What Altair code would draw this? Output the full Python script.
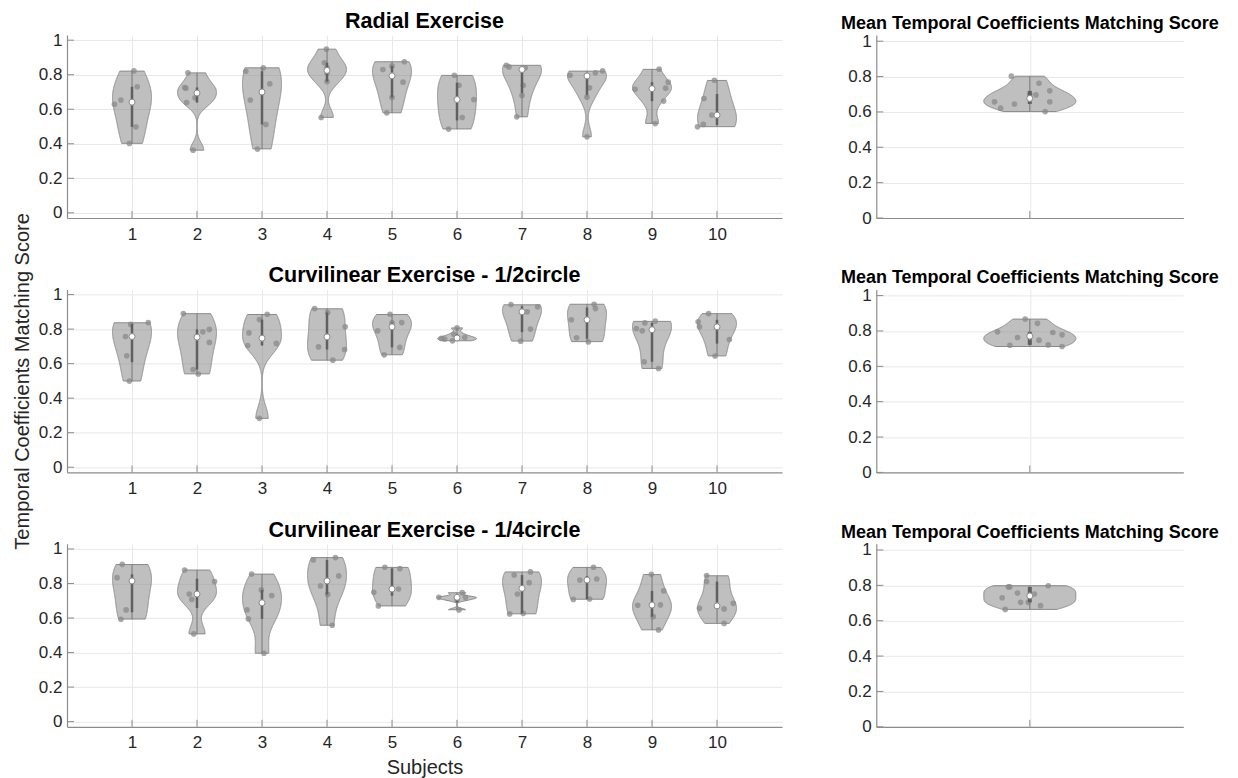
import numpy as np
import pandas as pd
import altair as alt

FONT = "Liberation Sans"

subjects = list(range(1, 11))
y_ticks = [0, 0.2, 0.4, 0.6, 0.8, 1.0]

panel_titles = [
    "Radial Exercise",
    "Curvilinear Exercise - 1/2circle",
    "Curvilinear Exercise - 1/4circle",
]
mean_title = "Mean Temporal Coefficients Matching Score"
y_label = "Temporal Coefficients Matching Score"
x_label = "Subjects"

# Per-subject matching scores (one list per subject) and the horizontal jitter of each dot
radial_scores = [
    [0.822, 0.730, 0.653, 0.629, 0.498, 0.402],
    [0.811, 0.726, 0.722, 0.666, 0.639, 0.363],
    [0.840, 0.820, 0.747, 0.653, 0.512, 0.369],
    [0.948, 0.869, 0.840, 0.810, 0.760, 0.552],
    [0.875, 0.850, 0.830, 0.757, 0.668, 0.579],
    [0.797, 0.739, 0.656, 0.552, 0.485],
    [0.855, 0.845, 0.840, 0.830, 0.739, 0.680, 0.556],
    [0.822, 0.811, 0.797, 0.793, 0.724, 0.670, 0.440],
    [0.832, 0.757, 0.722, 0.716, 0.647, 0.517],
    [0.768, 0.662, 0.566, 0.512, 0.498],
]
radial_jitter = [
    [0.03, 0.08, -0.17, -0.27, 0.06, -0.04],
    [-0.14, -0.19, -0.17, -0.03, -0.16, -0.06],
    [0.02, -0.25, 0.12, -0.18, 0.06, -0.07],
    [-0.01, -0.04, 0.00, 0.00, 0.00, -0.09],
    [0.19, 0.00, -0.14, 0.17, 0.00, -0.08],
    [-0.04, 0.03, 0.26, 0.08, -0.13],
    [-0.24, -0.20, 0.05, 0.00, 0.02, 0.00, -0.08],
    [0.24, 0.13, -0.26, 0.00, 0.04, 0.00, 0.00],
    [0.11, 0.25, 0.21, -0.26, 0.18, 0.05],
    [-0.04, -0.20, -0.08, -0.21, -0.30],
]

half_circle_scores = [
    [0.838, 0.827, 0.757, 0.645, 0.499],
    [0.890, 0.798, 0.784, 0.723, 0.566, 0.540],
    [0.886, 0.855, 0.778, 0.717, 0.705, 0.283],
    [0.919, 0.896, 0.813, 0.697, 0.682, 0.620],
    [0.886, 0.838, 0.836, 0.790, 0.694, 0.651],
    [0.807, 0.770, 0.751, 0.746, 0.742, 0.732],
    [0.942, 0.929, 0.900, 0.800, 0.730],
    [0.944, 0.919, 0.854, 0.750, 0.726],
    [0.846, 0.836, 0.803, 0.790, 0.611, 0.572],
    [0.890, 0.842, 0.813, 0.740, 0.644],
]
half_circle_jitter = [
    [0.25, -0.02, -0.10, -0.08, -0.04],
    [-0.21, 0.19, 0.09, 0.19, -0.06, 0.02],
    [0.08, -0.04, -0.20, 0.22, -0.22, -0.04],
    [-0.19, 0.01, 0.28, -0.13, 0.27, 0.09],
    [-0.03, 0.15, 0.00, -0.22, 0.12, -0.12],
    [0.00, -0.05, 0.12, -0.24, -0.19, -0.07],
    [-0.17, 0.24, 0.08, 0.13, -0.02],
    [0.11, 0.13, -0.24, -0.16, 0.02],
    [0.05, -0.11, -0.24, -0.15, -0.12, 0.10],
    [-0.13, -0.29, -0.27, 0.19, -0.03],
]

quarter_circle_scores = [
    [0.911, 0.834, 0.815, 0.647, 0.593],
    [0.878, 0.811, 0.739, 0.708, 0.508],
    [0.855, 0.763, 0.730, 0.647, 0.595, 0.396],
    [0.950, 0.936, 0.844, 0.786, 0.737, 0.558],
    [0.894, 0.886, 0.768, 0.749, 0.670],
    [0.747, 0.720, 0.720, 0.705, 0.647],
    [0.867, 0.849, 0.805, 0.739, 0.627, 0.624],
    [0.894, 0.826, 0.820, 0.710, 0.708],
    [0.853, 0.757, 0.676, 0.674, 0.608, 0.531],
    [0.846, 0.811, 0.685, 0.656, 0.653, 0.569],
]
quarter_circle_jitter = [
    [-0.15, -0.23, 0.00, -0.09, -0.17],
    [-0.19, 0.27, -0.12, -0.08, -0.05],
    [-0.16, -0.01, 0.15, -0.23, -0.21, 0.03],
    [0.13, -0.21, 0.18, -0.10, 0.01, 0.08],
    [-0.11, 0.12, 0.10, -0.28, -0.21],
    [0.08, 0.13, -0.28, 0.00, 0.03],
    [0.13, -0.12, 0.11, -0.07, 0.02, -0.19],
    [0.10, 0.15, -0.11, 0.04, -0.21],
    [-0.01, 0.18, 0.13, -0.22, 0.02, 0.10],
    [-0.16, -0.16, 0.25, -0.27, 0.11, 0.11],
]

# Mean score of each subject, one violin per exercise
mean_radial = [0.802, 0.762, 0.719, 0.696, 0.700, 0.657, 0.657, 0.645, 0.621, 0.602]
mean_radial_jitter = [-0.12, 0.06, 0.13, 0.04, 0.00, -0.23, 0.13, -0.10, -0.19, 0.10]
mean_half = [0.867, 0.843, 0.795, 0.791, 0.778, 0.763, 0.748, 0.721, 0.719, 0.712]
mean_half_jitter = [-0.03, 0.05, -0.21, 0.15, 0.21, -0.08, 0.06, 0.12, -0.13, 0.21]
mean_quarter = [0.798, 0.791, 0.791, 0.757, 0.751, 0.730, 0.704, 0.704, 0.685, 0.664]
mean_quarter_jitter = [0.12, -0.14, -0.13, -0.08, 0.03, -0.18, -0.06, -0.01, 0.07, -0.16]

# Style
LEFT_W, RIGHT_W, PANEL_H = 715, 307, 183
VIOLIN_HALF = 0.3
AXIS_COLOR = "#8c8c8c"
TEXT_COLOR = "#262626"


def points_frame(groups, jitters, positions):
    recs = []
    for pos, vals, jit in zip(positions, groups, jitters):
        for v, j in zip(vals, jit):
            recs.append({"pos": pos, "value": v, "xp": pos + j})
    return pd.DataFrame(recs)


def stats_frame(groups, positions):
    recs = []
    for pos, vals in zip(positions, groups):
        v = np.asarray(vals, dtype=float)
        q1, q3 = np.percentile(v, [25, 75], method="hazen")
        iqr = q3 - q1
        lo, hi = q1 - 1.5 * iqr, q3 + 1.5 * iqr
        recs.append({
            "pos": pos, "q1": q1, "q3": q3, "med": float(np.median(v)),
            "wlo": float(v[v >= lo].min()), "whi": float(v[v <= hi].max()),
        })
    return pd.DataFrame(recs)


def x_enc(field, kind, title=None):
    if kind == "left":
        scale = alt.Scale(domain=[0, 11], nice=False, zero=False)
        ax = dict(values=subjects, format="d", grid=True, ticks=False,
                  labelPadding=8)
        width = LEFT_W
    else:
        scale = alt.Scale(domain=[0, 2], nice=False, zero=False)
        ax = dict(values=[1], labels=False, grid=True, ticks=False)
        width = RIGHT_W
    if title:
        ax.update(title=title, titleX=width / 2, titleY=47,
                  titleBaseline="alphabetic", titleAlign="center")
    else:
        ax.update(title=None)
    return alt.X(field, type="quantitative", scale=scale, axis=alt.Axis(**ax))


def y_enc(field, kind, title=None):
    if kind == "left":
        scale = alt.Scale(domain=[-0.03, 1.03], nice=False, zero=False)
    else:
        scale = alt.Scale(domain=[0, 1.035], nice=False, zero=False)
    ax = dict(values=y_ticks, format=".1~f", grid=True, ticks=False,
              labelPadding=5)
    if title:
        ax.update(title=title, titleX=-45, titleY=PANEL_H / 2, titleAngle=-90,
                  titleBaseline="middle", titleAlign="center")
    else:
        ax.update(title=None)
    return alt.Y(field, type="quantitative", scale=scale, axis=alt.Axis(**ax))


def panel(groups, jitters, positions, kind, title, title_size,
          x_title=None, y_title=None):
    pts = points_frame(groups, jitters, positions)
    st = stats_frame(groups, positions)
    width = LEFT_W if kind == "left" else RIGHT_W
    box_w = 2.5 if kind == "left" else 4

    violin = alt.Chart(pts).transform_joinaggregate(
        vmin="min(value)", vmax="max(value)", groupby=["pos"]
    ).transform_density(
        "value", groupby=["pos", "vmin", "vmax"], as_=["value", "density"],
        steps=400,
    ).transform_filter(
        "datum.value >= datum.vmin && datum.value <= datum.vmax"
    ).transform_joinaggregate(
        dmax="max(density)", groupby=["pos"]
    ).transform_calculate(
        xl=f"datum.pos - {VIOLIN_HALF} * datum.density / datum.dmax",
        xr=f"datum.pos + {VIOLIN_HALF} * datum.density / datum.dmax",
    ).mark_area(
        orient="horizontal", fill="#808080", fillOpacity=0.5,
        stroke="#8a8a8a", strokeWidth=1,
    ).encode(
        y=y_enc("value", kind, y_title),
        x=x_enc("xl", kind, x_title),
        x2=alt.X2("xr"),
        detail="pos:N",
    )

    dots = alt.Chart(pts).mark_circle(
        size=32, color="#8a8a8a", opacity=0.75
    ).encode(
        x=x_enc("xp", kind, x_title),
        y=y_enc("value", kind, y_title),
    )

    whisker = alt.Chart(st).mark_rule(color="#7a7a7a", strokeWidth=1).encode(
        x=x_enc("pos", kind, x_title),
        y=y_enc("wlo", kind, y_title),
        y2=alt.Y2("whi"),
    )

    box = alt.Chart(st).mark_rule(color="#606060", strokeWidth=box_w).encode(
        x=x_enc("pos", kind, x_title),
        y=y_enc("q1", kind, y_title),
        y2=alt.Y2("q3"),
    )

    median = alt.Chart(st).mark_point(
        shape="circle", filled=True, fill="white", stroke="#8c8c8c",
        strokeWidth=1, size=36, opacity=1,
    ).encode(
        x=x_enc("pos", kind, x_title),
        y=y_enc("med", kind, y_title),
    )

    # inward tick marks on the left and bottom axes
    ytick = alt.Chart(pd.DataFrame({"tick": y_ticks})).mark_rule(
        color=AXIS_COLOR, strokeWidth=1
    ).encode(
        y=y_enc("tick", kind, y_title),
        x=alt.value(0),
        x2=alt.value(7),
    )
    xvals = subjects if kind == "left" else [1]
    xtick = alt.Chart(pd.DataFrame({"pos": xvals})).mark_rule(
        color=AXIS_COLOR, strokeWidth=1
    ).encode(
        x=x_enc("pos", kind, x_title),
        y=alt.value(PANEL_H),
        y2=alt.value(PANEL_H - 7),
    )

    # panel heading, set just above the plot area
    heading = alt.Chart(pd.DataFrame({"t": [title]})).mark_text(
        font=FONT, fontSize=title_size, fontWeight="bold", color="black",
        align="center", baseline="alphabetic",
    ).encode(
        text="t:N",
        x=alt.value(width / 2),
        y=alt.value(-7 if kind == "left" else -6),
    )

    return alt.layer(violin, dots, whisker, box, median, ytick, xtick, heading).properties(
        width=width,
        height=PANEL_H,
    )


left_groups = [
    (radial_scores, radial_jitter),
    (half_circle_scores, half_circle_jitter),
    (quarter_circle_scores, quarter_circle_jitter),
]
right_groups = [
    (mean_radial, mean_radial_jitter),
    (mean_half, mean_half_jitter),
    (mean_quarter, mean_quarter_jitter),
]

cells = []
for i in range(3):
    sc, jt = left_groups[i]
    left = panel(
        sc, jt, subjects, "left", panel_titles[i], 21.5,
        x_title=x_label if i == 2 else None,
        y_title=y_label if i == 1 else None,
    )
    msc, mjt = right_groups[i]
    right = panel([msc], [mjt], [1], "right", mean_title, 18)
    cells.extend([left, right])

chart = alt.concat(
    *cells,
    columns=2,
    spacing=alt.RowColnumber(row=71.4, column=94.3),
    bounds="flush",
    align="each",
).properties(
    autosize=alt.AutoSizeParams(type="none"),
    padding={"left": 67, "top": 35, "right": 1171, "bottom": 743},
    background="white",
).configure_view(
    stroke=None,
).configure_axis(
    domainColor=AXIS_COLOR,
    domainWidth=1.2,
    gridColor="#e8e8e8",
    gridWidth=1,
    labelFont=FONT,
    labelFontSize=17,
    labelColor=TEXT_COLOR,
    titleFont=FONT,
    titleFontSize=20,
    titleFontWeight="normal",
    titleColor=TEXT_COLOR,
)

chart.save("out.html", embed_options={"renderer": "svg", "actions": False})
